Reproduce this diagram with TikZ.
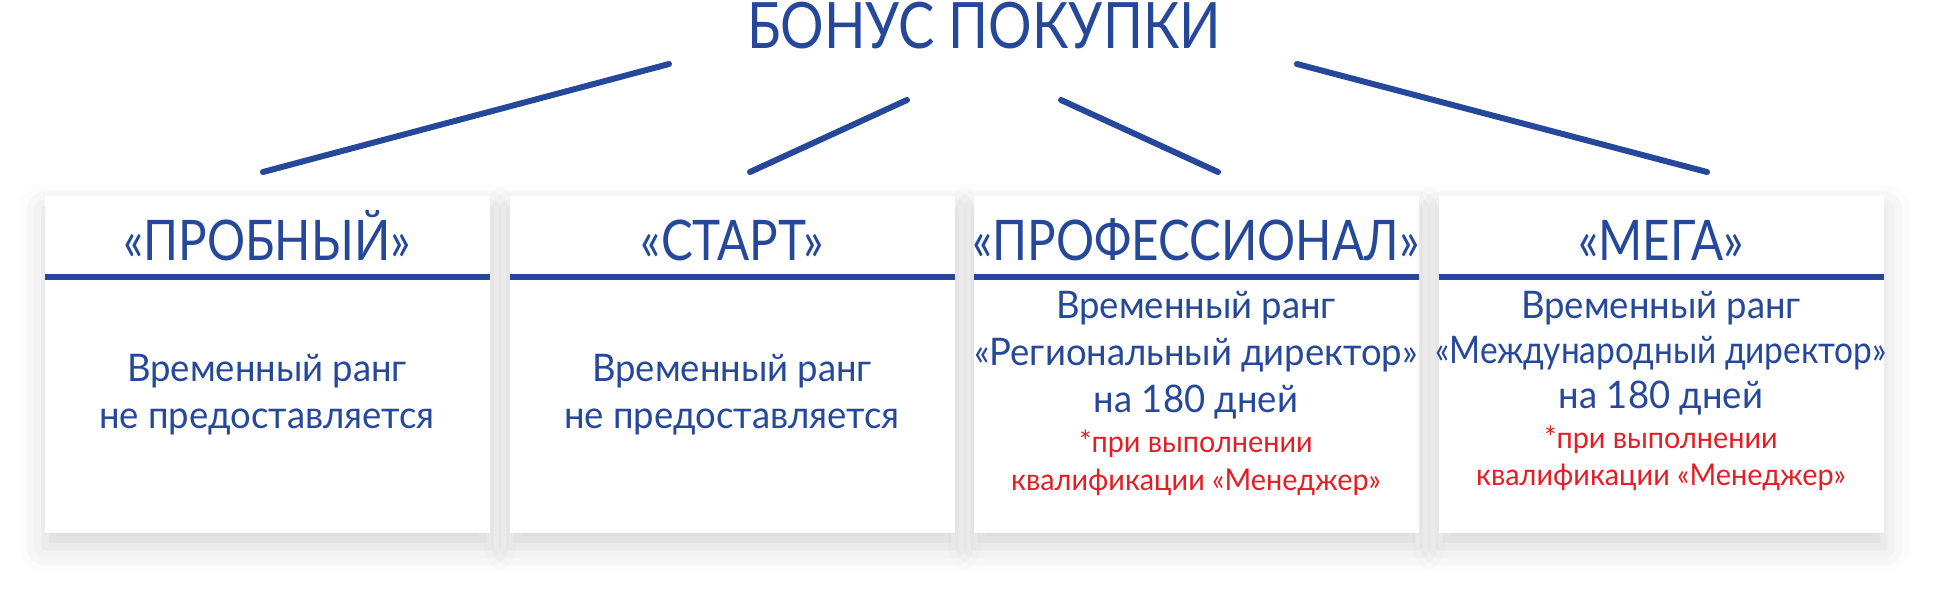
\documentclass[tikz,border=0pt]{standalone}
\usepackage{fontspec}
\setmainfont{Lato}
\newfontfamily\headfont[FakeStretch=0.85]{Lato}
\newfontfamily\bodyfont[FakeStretch=0.96]{Lato}
\newfontfamily\tightfont[FakeStretch=0.88]{Lato}
\usetikzlibrary{shadows.blur}

\definecolor{bonusblue}{RGB}{38,72,155}
\definecolor{notered}{RGB}{228,30,38}

\tikzset{
  card/.style={fill=white,blur shadow={shadow xshift=0pt,shadow yshift=-7pt,shadow blur radius=13pt,shadow opacity=16}},
  rule/.style={bonusblue,line width=2.6pt},
  link/.style={bonusblue,line width=3pt,line cap=round},
  txt/.style={anchor=base,inner sep=0pt},
  title/.style={txt,bonusblue,font=\headfont\fontsize{32}{38}\selectfont},
  head/.style={txt,bonusblue,font=\headfont\fontsize{28}{34}\selectfont},
  body/.style={txt,bonusblue,font=\bodyfont\fontsize{19}{23}\selectfont},
  longbody/.style={body,font=\tightfont\fontsize{19}{23}\selectfont},
  note/.style={txt,notered,font=\bodyfont\fontsize{15}{18}\selectfont}
}

\begin{document}
\begin{tikzpicture}[x=0.5pt,y=-0.5pt]
  \useasboundingbox (0,0) rectangle (1940,589);

  % cards: shadows first, then the white faces
  \foreach \x in {45,510,974,1439}
    \fill[card] (\x,196) rectangle ++(445,337);
  \foreach \x in {45,510,974,1439} {
    \fill[white] (\x,196) rectangle ++(445,337);
    \draw[rule] (\x,277) -- ++(445,0);
  }

  \node[title] (bonus) at (984,48) {БОНУС ПОКУПКИ};

  % links from the title down to the cards
  \coordinate (t1) at (669,64);   \coordinate (b1) at (263,172);
  \coordinate (t2) at (907,100);  \coordinate (b2) at (750,172);
  \coordinate (t3) at (1061,100); \coordinate (b3) at (1218,172);
  \coordinate (t4) at (1297,64);  \coordinate (b4) at (1707,172);
  \draw[link] (t1) -- (b1);
  \draw[link] (t2) -- (b2);
  \draw[link] (t3) -- (b3);
  \draw[link] (t4) -- (b4);

  % trial
  \node[head] (trial) at (267,260) {«ПРОБНЫЙ»};
  \node[body] (trial1) at (267,381) {Временный ранг};
  \node[body] (trial2) at (267,428) {не предоставляется};

  % start
  \node[head] (start) at (732,260) {«СТАРТ»};
  \node[body] (start1) at (732,381) {Временный ранг};
  \node[body] (start2) at (732,428) {не предоставляется};

  % pro
  \node[head] (pro) at (1196,260) {«ПРОФЕССИОНАЛ»};
  \node[body] (pro1) at (1196,318) {Временный ранг};
  \node[body] (pro2) at (1196,365) {«Региональный директор»};
  \node[body] (pro3) at (1196,412) {на 180 дней};
  \node[note] (pro4) at (1196,452) {*при выполнении};
  \node[note] (pro5) at (1196,490) {квалификации «Менеджер»};

  % mega
  \node[head] (mega) at (1661,260) {«МЕГА»};
  \node[body] (mega1) at (1661,318) {Временный ранг};
  \node[longbody] (mega2) at (1661,363) {«Международный директор»};
  \node[body] (mega3) at (1661,408) {на 180 дней};
  \node[note] (mega4) at (1661,448) {*при выполнении};
  \node[note] (mega5) at (1661,485) {квалификации «Менеджер»};
\end{tikzpicture}
\end{document}
